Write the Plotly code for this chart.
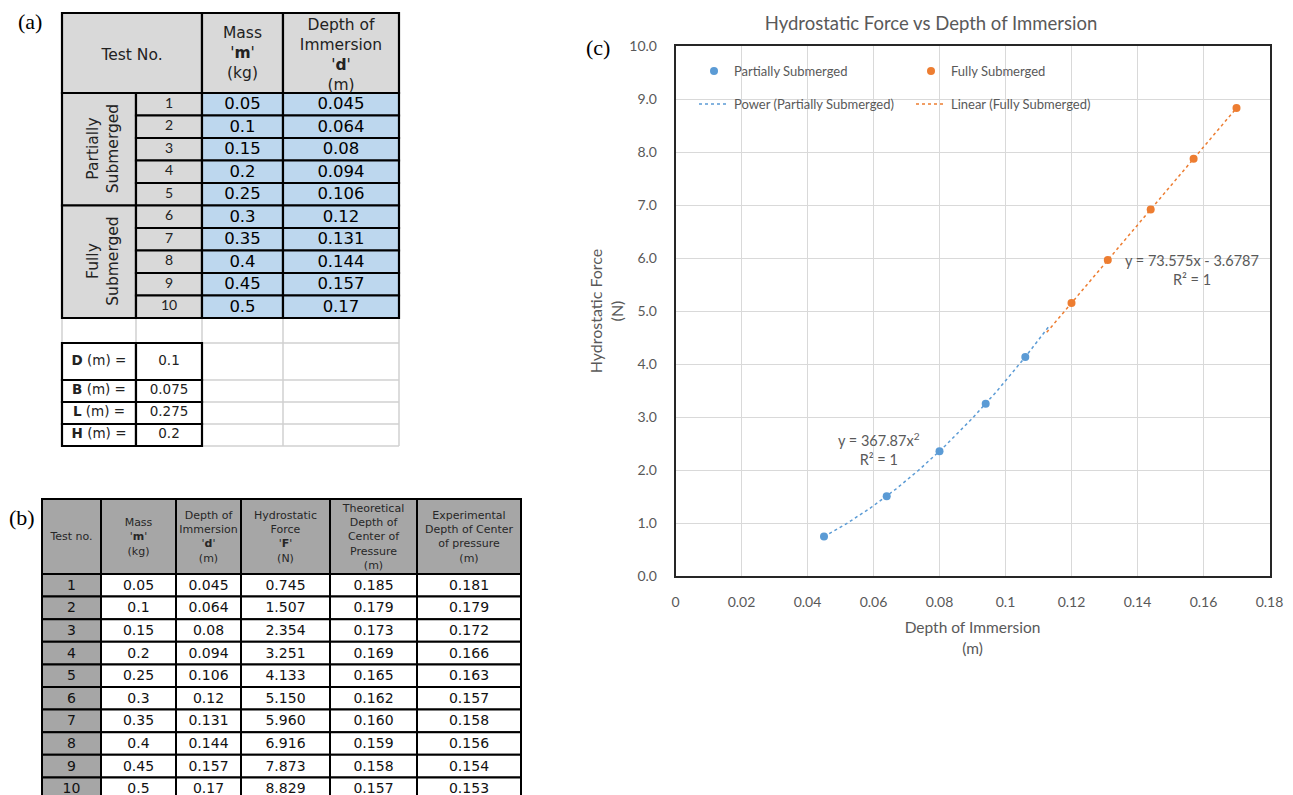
import numpy as np
import plotly.graph_objects as go

# ---------------- data ----------------
test_no = [1, 2, 3, 4, 5, 6, 7, 8, 9, 10]
mass_kg = [0.05, 0.1, 0.15, 0.2, 0.25, 0.3, 0.35, 0.4, 0.45, 0.5]
depth_m = [0.045, 0.064, 0.08, 0.094, 0.106, 0.12, 0.131, 0.144, 0.157, 0.17]
force_N = [0.745, 1.507, 2.354, 3.251, 4.133, 5.150, 5.960, 6.916, 7.873, 8.829]
theo_cp = [0.185, 0.179, 0.173, 0.169, 0.165, 0.162, 0.160, 0.159, 0.158, 0.157]
exp_cp = [0.181, 0.179, 0.172, 0.166, 0.163, 0.157, 0.158, 0.156, 0.154, 0.153]
group_names = ["Partially<br>Submerged", "Fully<br>Submerged"]
group_size = [5, 5]
dim_names = ["D", "B", "L", "H"]
dim_values = [0.1, 0.075, 0.275, 0.2]
x_ticks = [0, 0.02, 0.04, 0.06, 0.08, 0.1, 0.12, 0.14, 0.16, 0.18]
y_ticks = [0, 1, 2, 3, 4, 5, 6, 7, 8, 9, 10]
power_eq = "y = 367.87x<sup>2</sup><br>R² = 1"
linear_eq = "y = 73.575x - 3.6787<br>R² = 1"

# ---------------- styles / layout constants ----------------
W, H = 1293, 795          # browser window
OFF = 8                   # default page margin around the plot div
FW, FH = W - OFF, H - OFF # figure size so that it ends at the window edge
BLUE, ORANGE = "#5B9BD5", "#ED7D31"
GRAYTXT = "#595959"
CHART_FONT = "Lato, sans-serif"
TABLE_FONT = "DejaVu Sans, Verdana, sans-serif"
SERIF = "Liberation Serif, Times New Roman, serif"


def px(X):  # window x pixel -> paper fraction
    return (X - OFF) / FW


def py(Y):  # window y pixel -> paper fraction
    return 1 - (Y - OFF) / FH


fig = go.Figure()
shapes = []
annotations = []


def rect(x0, x1, y0, y1, fill, lw=2.2, lc="black", layer="below"):
    shapes.append(dict(type="rect", xref="x2", yref="y2", x0=x0, x1=x1, y0=y0, y1=y1,
                       fillcolor=fill, line=dict(color=lc, width=lw), layer=layer))


def line(x0, x1, y0, y1, lc="#D0D0D0", lw=1.5):
    shapes.append(dict(type="line", xref="x2", yref="y2", x0=x0, x1=x1, y0=y0, y1=y1,
                       line=dict(color=lc, width=lw), layer="below"))


def texts(xs, ys, tx, size, family=TABLE_FONT, color="black"):
    fig.add_trace(go.Scatter(x=xs, y=ys, text=tx, mode="text", xaxis="x2", yaxis="y2",
                             textfont=dict(size=size, family=family, color=color),
                             hoverinfo="skip", showlegend=False))


# ---------------- table (a) ----------------
A_LEFT, A_COLW = 62, [74, 66, 81, 116]
A_TOP, A_HEAD_H, A_ROW_H = 13, 80, 22.5
A_GAP_H, A_DIM_H = 25, [37, 22, 22, 22]
ax = np.concatenate([[A_LEFT], A_LEFT + np.cumsum(A_COLW)])
a_body_top = A_TOP + A_HEAD_H
n = len(test_no)
ay = a_body_top + A_ROW_H * np.arange(n + 1)
LIGHT, BLUECELL = "#D9D9D9", "#BDD7EE"

# light grid below the table
g_top = ay[-1]
dim_edges = np.concatenate([[g_top + A_GAP_H], g_top + A_GAP_H + np.cumsum(A_DIM_H)])
line(ax[0], ax[-1], dim_edges[0], dim_edges[0])
for yy in dim_edges[1:]:
    line(ax[2], ax[-1], yy, yy)
for xx in ax:
    line(xx, xx, g_top, dim_edges[-1] if xx >= ax[2] else dim_edges[0])

# header
rect(ax[0], ax[2], A_TOP, a_body_top, LIGHT)
rect(ax[2], ax[3], A_TOP, a_body_top, LIGHT)
rect(ax[3], ax[4], A_TOP, a_body_top, LIGHT)
texts([(ax[0] + ax[2]) / 2, (ax[2] + ax[3]) / 2, (ax[3] + ax[4]) / 2],
      [A_TOP + A_HEAD_H / 2 + 3, A_TOP + A_HEAD_H / 2 + 1, A_TOP + A_HEAD_H / 2 + 3],
      ["Test No.", "Mass<br>'<b>m</b>'<br>(kg)", "Depth of<br>Immersion<br>'<b>d</b>'<br>(m)"],
      15.5, color="#222")
# groups
start = 0
for gname, gs in zip(group_names, group_size):
    rect(ax[0], ax[1], ay[start], ay[start + gs], LIGHT)
    annotations.append(dict(xref="x2", yref="y2", x=(ax[0] + ax[1]) / 2 + 4,
                            y=(ay[start] + ay[start + gs]) / 2, text=gname, textangle=-90,
                            xanchor="center", yanchor="middle", showarrow=False,
                            font=dict(size=15.5, family=TABLE_FONT, color="#222")))
    start += gs
# rows
for i in range(n):
    rect(ax[1], ax[2], ay[i], ay[i + 1], LIGHT)
    rect(ax[2], ax[3], ay[i], ay[i + 1], BLUECELL)
    rect(ax[3], ax[4], ay[i], ay[i + 1], BLUECELL)
rc = (ay[:-1] + ay[1:]) / 2
texts([(ax[1] + ax[2]) / 2] * n, rc, [str(t) for t in test_no], 14, family=CHART_FONT, color="#222")
texts([(ax[2] + ax[3]) / 2] * n, rc + 1, [f"{v:g}" for v in mass_kg], 16.5)
texts([(ax[3] + ax[4]) / 2] * n, rc + 1, [f"{v:g}" for v in depth_m], 16.5)
# dimensions
for j in range(len(dim_names)):
    rect(ax[0], ax[1], dim_edges[j], dim_edges[j + 1], "white")
    rect(ax[1], ax[2], dim_edges[j], dim_edges[j + 1], "white")
dc = (dim_edges[:-1] + dim_edges[1:]) / 2
texts([(ax[0] + ax[1]) / 2] * 4, dc, [f"<b>{d}</b> (m) =" for d in dim_names], 13.5, color="#222")
texts([(ax[1] + ax[2]) / 2] * 4, dc, [f"{v:g}" for v in dim_values], 13.5, color="#222")

# ---------------- table (b) ----------------
B_LEFT, B_COLW = 42, [59, 75, 65, 89, 87, 104]
B_TOP, B_HEAD_H, B_ROW_H = 499, 75, 22.6
bx = np.concatenate([[B_LEFT], B_LEFT + np.cumsum(B_COLW)])
by = B_TOP + B_HEAD_H + B_ROW_H * np.arange(n + 1)
DARK = "#A6A6A6"
b_heads = ["Test no.", "Mass<br>'<b>m</b>'<br>(kg)", "Depth of<br>Immersion<br>'<b>d</b>'<br>(m)",
           "Hydrostatic<br>Force<br>'<b>F</b>'<br>(N)",
           "Theoretical<br>Depth of<br>Center of<br>Pressure<br>(m)",
           "Experimental<br>Depth of Center<br>of pressure<br>(m)"]
for k in range(6):
    rect(bx[k], bx[k + 1], B_TOP, B_TOP + B_HEAD_H, DARK, lw=2)
texts((bx[:-1] + bx[1:]) / 2, [B_TOP + B_HEAD_H / 2 + 1] * 6, b_heads, 11, color="#262626")
b_cols = [[str(t) for t in test_no], [f"{v:g}" for v in mass_kg], [f"{v:g}" for v in depth_m],
          [f"{v:.3f}" for v in force_N], [f"{v:.3f}" for v in theo_cp], [f"{v:.3f}" for v in exp_cp]]
for i in range(n):
    for k in range(6):
        rect(bx[k], bx[k + 1], by[i], by[i + 1], DARK if k == 0 else "white", lw=2)
brc = (by[:-1] + by[1:]) / 2
for k in range(6):
    texts([(bx[k] + bx[k + 1]) / 2] * n, brc + 1, b_cols[k], 14, color="#111")

# ---------------- chart (c) ----------------
d = np.array(depth_m)
F = np.array(force_N)
npart = group_size[0]
pd_, pF = d[:npart], F[:npart]
fd_, fF = d[npart:], F[npart:]
POWER_FORWARD, LINEAR_BACKWARD = 0.007, 0.0075
bexp, lna = np.polyfit(np.log(pd_), np.log(pF), 1)
xs_p = np.linspace(pd_.min(), pd_.max() + POWER_FORWARD, 120)
slope, icpt = np.polyfit(fd_, fF, 1)
xs_l = np.array([fd_.min() - LINEAR_BACKWARD, fd_.max()])

fig.add_trace(go.Scatter(x=pd_, y=pF, mode="markers", name="Partially Submerged",
                         marker=dict(color=BLUE, size=8), legend="legend"))
fig.add_trace(go.Scatter(x=fd_, y=fF, mode="markers", name="Fully Submerged",
                         marker=dict(color=ORANGE, size=8), legend="legend"))
fig.add_trace(go.Scatter(x=xs_p, y=np.exp(lna) * xs_p ** bexp, mode="lines",
                         name="Power (Partially Submerged)",
                         line=dict(color=BLUE, width=1.5, dash="dot"), legend="legend2"))
fig.add_trace(go.Scatter(x=xs_l, y=slope * xs_l + icpt, mode="lines",
                         name="Linear (Fully Submerged)",
                         line=dict(color=ORANGE, width=1.5, dash="dot"), legend="legend2"))

annotations += [
    dict(x=0.0618, y=2.39, xref="x", yref="y", text=power_eq, showarrow=False,
         xanchor="center", yanchor="middle",
         font=dict(size=14.5, family=CHART_FONT, color=GRAYTXT)),
    dict(x=0.1564, y=5.77, xref="x", yref="y", text=linear_eq, showarrow=False,
         xanchor="center", yanchor="middle",
         font=dict(size=14.5, family=CHART_FONT, color=GRAYTXT)),
    dict(x=px(30), y=py(22), xref="paper", yref="paper", text="(a)", showarrow=False,
         xanchor="center", yanchor="middle", font=dict(size=22, family=SERIF, color="black")),
    dict(x=px(22), y=py(517), xref="paper", yref="paper", text="(b)", showarrow=False,
         xanchor="center", yanchor="middle", font=dict(size=22, family=SERIF, color="black")),
    dict(x=px(598), y=py(48), xref="paper", yref="paper", text="(c)", showarrow=False,
         xanchor="center", yanchor="middle", font=dict(size=22, family=SERIF, color="black")),
]

fig.update_layout(
    width=FW, height=FH, margin=dict(l=0, r=0, t=0, b=0),
    paper_bgcolor="white", plot_bgcolor="white",
    font=dict(family=CHART_FONT, color=GRAYTXT),
    title=dict(text="Hydrostatic Force vs Depth of Immersion", x=px(931), xanchor="center",
               y=py(24), yanchor="middle", font=dict(size=18.5, color=GRAYTXT, family=CHART_FONT)),
    xaxis=dict(domain=[px(675.5), px(1269.5)], range=[0, 0.18], tickvals=x_ticks,
               showgrid=True, gridcolor="#D9D9D9", gridwidth=1, zeroline=False,
               showline=True, mirror=True, linecolor="#262626", linewidth=1.5,
               ticks="", ticklabelstandoff=12, tickfont=dict(size=14, color=GRAYTXT),
               title=dict(text="Depth of Immersion<br>(m)", standoff=14,
                          font=dict(size=15.5, color=GRAYTXT)),
               automargin=False, anchor="y", fixedrange=True),
    yaxis=dict(domain=[py(576), py(46)], range=[0, 10], tickvals=y_ticks,
               tickformat=".1f", showgrid=True, gridcolor="#D9D9D9", gridwidth=1, zeroline=False,
               showline=True, mirror=True, linecolor="#262626", linewidth=1.5,
               ticks="", ticklabelstandoff=14, tickfont=dict(size=14, color=GRAYTXT),
               title=dict(text="Hydrostatic Force<br>(N)", standoff=2,
                          font=dict(size=16, color=GRAYTXT)),
               automargin=False, anchor="x", fixedrange=True),
    xaxis2=dict(domain=[0, 0.45], range=[OFF, OFF + 0.45 * FW], visible=False,
                anchor="y2", fixedrange=True),
    yaxis2=dict(domain=[0, 1], range=[H, OFF], visible=False, anchor="x2", fixedrange=True),
    legend=dict(orientation="h", x=px(694), y=py(56), xanchor="left", yanchor="top",
                entrywidth=172, entrywidthmode="pixels", bgcolor="rgba(0,0,0,0)",
                font=dict(size=13, color=GRAYTXT, family=CHART_FONT)),
    legend2=dict(orientation="h", x=px(694), y=py(89), xanchor="left", yanchor="top",
                 entrywidth=172, entrywidthmode="pixels", bgcolor="rgba(0,0,0,0)",
                 font=dict(size=13, color=GRAYTXT, family=CHART_FONT)),
    shapes=shapes, annotations=annotations,
)

fig.write_html("out.html")
